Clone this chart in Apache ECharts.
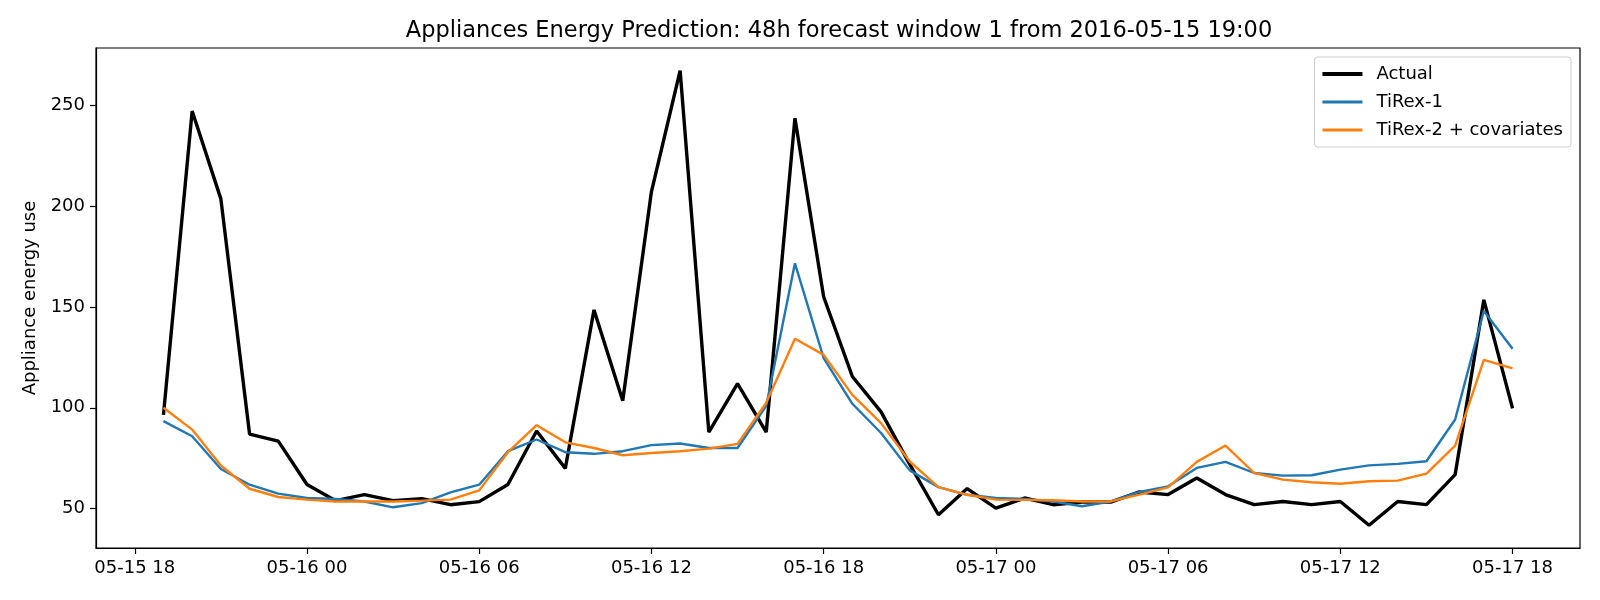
<!DOCTYPE html>
<html>
<head>
<meta charset="utf-8">
<title>Appliances Energy Prediction</title>
<script src="https://cdn.jsdelivr.net/npm/echarts@6/dist/echarts.min.js"></script>
<style>
  html, body { margin: 0; padding: 0; background: #fff; }
  #chart { width: 1600px; height: 600px; }
</style>
</head>
<body>
<div id="chart"></div>
<script>
// hours after 05-15 18:00 for each forecast step (05-15 19:00 ... 05-17 18:00)
var hours = [];
for (var h = 1; h <= 48; h++) hours.push(h);

var actual = [
  96.5, 247, 203.5, 87, 83.5,
  62, 54, 57, 54, 55, 52, 53.5, 62, 88.5, 70, 148.5, 103.5,
  207, 267, 88, 112, 88, 243.5, 155, 115.5, 98, 72, 47, 60,
  50.3, 55.3, 52, 53.3, 53.3, 58.3, 57, 65.2, 57, 52, 53.6, 52,
  53.6, 41.8, 53.6, 52, 66.9, 153.5, 99.7
];
var tirex1 = [
  93.4, 85.9, 69.7, 61.9, 57.5,
  55.3, 54.8, 53.6, 50.7, 52.8, 58.1, 61.9, 78.5, 84.3, 78, 77.2, 78.5,
  81.5, 82.3, 80.1, 80.1, 101, 171.6, 124.6, 102, 87.5, 69, 60.7, 56.9,
  55.3, 54.8, 53.6, 51.2, 53.6, 58.3, 61.1, 70.2, 73.2, 67.7, 66.4, 66.6,
  69.4, 71.5, 72.2, 73.5, 94.2, 148, 129.3
];
var tirex2 = [
  100, 89.2, 71.4, 59.9, 55.8,
  54.5, 53.6, 53.6, 53.6, 54, 54.5, 59.1, 78, 91.4, 82.9, 80.1, 76.5,
  77.6, 78.5, 79.8, 82.1, 102.5, 134.2, 126.2, 106.4, 92.4, 73.4, 60.7, 56.9,
  54.5, 54.4, 54.2, 53.6, 53.6, 57, 60.6, 73.2, 81.3, 67.7, 64.4, 63.1,
  62.4, 63.6, 63.9, 67.4, 81.3, 123.7, 119.5
];

var xTicks = [0, 6, 12, 18, 24, 30, 36, 42, 48];
var xTickLabels = ['05-15 18', '05-16 00', '05-16 06', '05-16 12', '05-16 18',
                   '05-17 00', '05-17 06', '05-17 12', '05-17 18'];
var yTicks = [50, 100, 150, 200, 250];

var seriesNames = ['Actual', 'TiRex-1', 'TiRex-2 + covariates'];
var seriesColors = ['#000000', '#1f77b4', '#ff7f0e'];
var lineWidths = [3.4, 2.4, 2.4];

function pair(ys) {
  return ys.map(function (y, i) { return [hours[i], y]; });
}

// matplotlib style 5% margins
var allY = actual.concat(tirex1, tirex2);
var yLo = Math.min.apply(null, allY), yHi = Math.max.apply(null, allY);
var yPad = (yHi - yLo) * 0.05;
var xPad = (hours[hours.length - 1] - hours[0]) * 0.05;

var chart = echarts.init(document.getElementById('chart'), null, { renderer: 'canvas' });
var font = 'DejaVu Sans';

function makeSeries(i, values) {
  return {
    name: seriesNames[i], type: 'line', data: pair(values),
    symbol: 'none', color: seriesColors[i],
    lineStyle: { width: lineWidths[i], color: seriesColors[i] }
  };
}

var option = {
  animation: false,
  backgroundColor: '#fff',
  title: {
    text: 'Appliances Energy Prediction: 48h forecast window 1 from 2016-05-15 19:00',
    left: 834,
    top: 15,
    textAlign: 'center',
    textStyle: { fontFamily: font, fontSize: 22.5, fontWeight: 'normal', color: '#000' }
  },
  legend: {
    data: seriesNames.map(function (n, i) {
      return { name: n, lineStyle: { width: lineWidths[i] + 0.4, color: seriesColors[i] } };
    }),
    orient: 'vertical',
    right: 29,
    top: 57,
    itemWidth: 40,
    itemHeight: 18,
    itemGap: 10,
    padding: [8, 8, 8, 6],
    borderColor: '#cccccc',
    borderWidth: 1,
    borderRadius: 3,
    backgroundColor: 'rgba(255,255,255,0.8)',
    itemStyle: { opacity: 0 },
    textStyle: { fontFamily: font, fontSize: 18, color: '#000', padding: [0, 0, 0, 9] }
  },
  grid: {
    left: 96, right: 20, top: 48, bottom: 52,
    show: true,
    borderColor: '#000',
    borderWidth: 1.2,
    backgroundColor: 'transparent'
  },
  xAxis: {
    type: 'value',
    min: hours[0] - xPad,
    max: hours[hours.length - 1] + xPad,
    splitLine: { show: false },
    axisLine: { show: true, onZero: false, lineStyle: { color: '#000', width: 1.2 } },
    axisTick: { show: true, inside: false, length: 6, customValues: xTicks, lineStyle: { color: '#000', width: 1.2 } },
    axisLabel: {
      customValues: xTicks,
      margin: 11,
      fontFamily: font, fontSize: 18, color: '#000',
      formatter: function (v) { return xTickLabels[xTicks.indexOf(v)]; }
    }
  },
  yAxis: {
    type: 'value',
    min: yLo - yPad,
    max: yHi + yPad,
    name: 'Appliance energy use',
    nameLocation: 'middle',
    nameGap: 56,
    nameTextStyle: { fontFamily: font, fontSize: 18, color: '#000' },
    splitLine: { show: false },
    axisLine: { show: true, onZero: false, lineStyle: { color: '#000', width: 1.2 } },
    axisTick: { show: true, inside: false, length: 6, customValues: yTicks, lineStyle: { color: '#000', width: 1.2 } },
    axisLabel: {
      customValues: yTicks,
      margin: 11,
      fontFamily: font, fontSize: 18, color: '#000'
    }
  },
  series: [
    makeSeries(0, actual),
    makeSeries(1, tirex1),
    makeSeries(2, tirex2)
  ]
};

chart.setOption(option);
</script>
</body>
</html>
